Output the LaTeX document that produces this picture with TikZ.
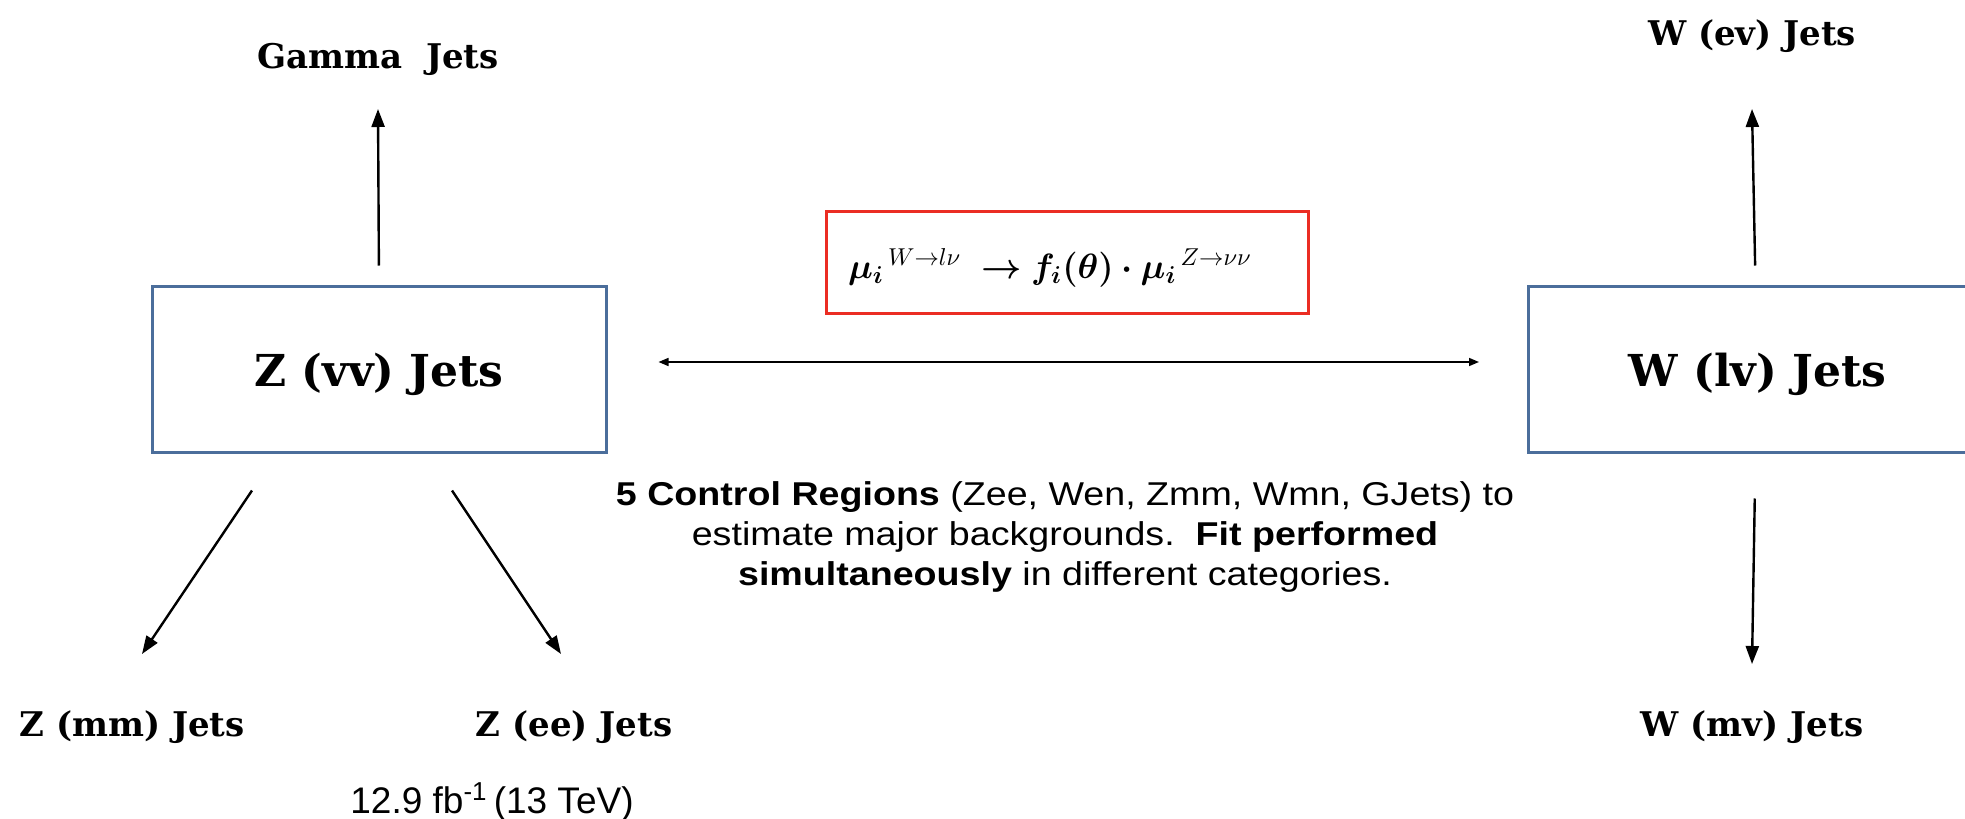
\documentclass[tikz,border=0pt]{standalone}
\usepackage{fontspec}
\usepackage{amsmath,bm}
\setmainfont{DejaVu Serif}
\newfontfamily\sansf{Liberation Sans}
\newfontfamily\sansw[FakeStretch=1.14]{Liberation Sans}
\usetikzlibrary{arrows.meta}
\definecolor{boxblue}{RGB}{75,110,155}
\definecolor{boxred}{RGB}{235,45,35}
\tikzset{
  jbox/.style={draw=boxblue, line width=1.5pt, minimum width=227pt, minimum height=83pt, inner sep=0pt, text height=19pt, text depth=2pt, font=\fontsize{22}{26}\selectfont\bfseries},
  biglab/.style={inner sep=0pt, font=\fontsize{17}{20}\selectfont\bfseries},
  arr/.style={-{Triangle[length=9pt,width=6.5pt]}, line width=1.2pt},
  darr/.style={{Triangle[length=5pt,width=4pt]}-{Triangle[length=5pt,width=4pt]}, line width=0.8pt},
}
\begin{document}
\begin{tikzpicture}[x=0.5pt,y=-0.5pt]
\useasboundingbox (0,0) rectangle (1965,819);
\node[jbox] (zvv) at (379,369) {Z (vv) Jets};
\node[jbox, anchor=west] (wlv) at (1527,369) {\hspace{2pt}W (lv) Jets};
\node[draw=boxred, line width=1.5pt, minimum width=241pt, minimum height=51pt, inner sep=0pt] (redbox) at (1067,262) {};
\node[inner sep=0pt] (form) at (1050,268)
  {\scalebox{1.22}{\fontsize{14}{16}\selectfont$\bm{\mu_i}{}^{\,W\to l\nu}\;\bm{\to f_i(\theta)\cdot\mu_i}{}^{\,Z\to\nu\nu}$}};
\node[biglab] (gamma) at (378,59) {Gamma\ \ Jets};
\node[biglab] (wev) at (1752,36) {W (ev) Jets};
\node[biglab] (wmv) at (1752,727) {W (mv) Jets};
\node[biglab] (zmm) at (132,727) {Z (mm) Jets};
\node[biglab] (zee) at (574,727) {Z (ee) Jets};
\node[inner sep=0pt, align=center, font=\sansw\fontsize{16.5}{20}\selectfont] (txt) at (1065,537)
  {\textbf{5 Control Regions} (Zee, Wen, Zmm, Wmn, GJets) to\\
   estimate major backgrounds.\ \ \textbf{Fit performed}\\
   \textbf{simultaneously} in different categories.};
\node[inner sep=0pt, font=\sansf\fontsize{18.5}{20}\selectfont] (lumi) at (492,802) {12.9 fb$^{\text{-1}}$\,(13 TeV)};
\draw[arr, shorten <=9.5pt] (zvv.north) -- ([yshift=-25pt]gamma.center);
\draw[arr, shorten <=9.5pt] (wlv.north) -- ([yshift=-36.5pt]wev.center);
\draw[arr, shorten <=22.5pt] (wlv.south) -- ([yshift=31.5pt]wmv.center);
\draw[arr] ([xshift=-63.5pt,yshift=-18.5pt]zvv.south) -- ([xshift=5pt,yshift=36.5pt]zmm.center);
\draw[arr] ([xshift=36.5pt,yshift=-18.5pt]zvv.south) -- ([xshift=-6.5pt,yshift=36.5pt]zee.center);
\draw[darr, shorten <=25.5pt, shorten >=24pt] ([yshift=3.5pt]zvv.east) -- ([yshift=3.5pt]wlv.west);
\end{tikzpicture}
\end{document}
